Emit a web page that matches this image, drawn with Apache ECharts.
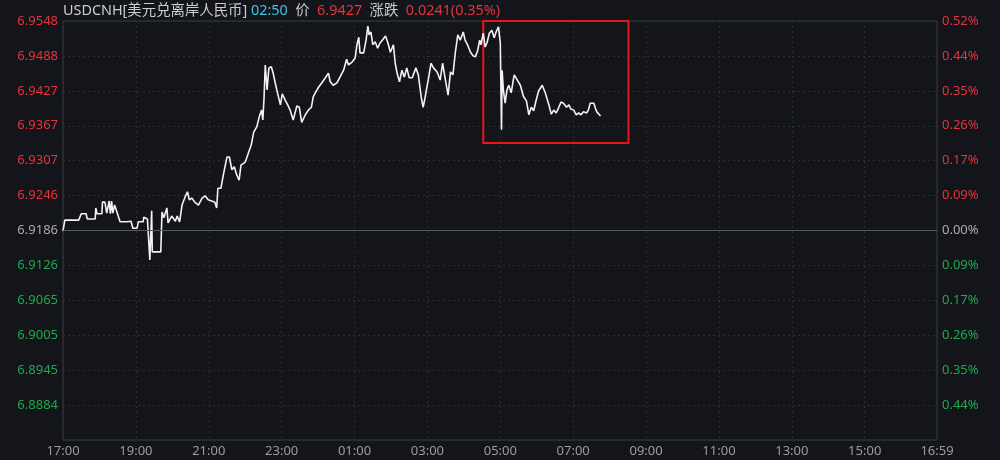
<!DOCTYPE html>
<html><head><meta charset="utf-8">
<script src="https://cdn.jsdelivr.net/npm/echarts@6/dist/echarts.min.js"></script>
<style>html,body{margin:0;padding:0;background:#13151a}#c{width:1000px;height:460px}</style>
</head><body><div id="c"></div>
<script>
// Minutes elapsed since 17:00 (trading day 17:00 -> 16:59 next day)
const minutesFrom1700 = [
  0,3,26,30,38,40,53,54,56,64,
  65,69,72,76,78,80,82,85,88,94,
  105,107,112,115,122,124,132,133,139,142,
  143,145,146,147,161,163,166,171,173,179,
  185,188,192,196,201,205,208,212,217,223,
  229,234,239,245,250,253,255,260,264,270,
  274,278,282,286,290,293,300,304,310,314,
  319,323,327,329,331,333,336,339,343,346,
  349,354,358,361,366,370,374,379,385,389,
  393,399,404,409,412,416,421,426,432,437,
  440,445,451,456,462,467,470,476,481,484,
  487,489,495,499,502,504,507,510,514,518,
  522,526,531,535,539,544,547,550,554,558,
  562,566,570,575,581,585,590,593,596,602,
  606,610,616,621,625,629,634,638,642,646,
  650,654,659,662,666,671,675,679,683,686,
  688,692,695,698,702,706,710,713,717,720,
  722,723,725,728,731,734,738,742,743,748,
  753,758,763,767,771,775,779,783,789,791,
  794,800,804,808,812,816,820,824,829,833,
  836,841,845,849,853,857,862,865,868,871,
  874,877,879,882,885
];
const prices = [
  6.9185,6.9204,6.9204,6.9215,6.9215,6.9206,6.9206,6.9225,6.9215,6.9215,
  6.9235,6.9235,6.9216,6.9237,6.9215,6.9237,6.9216,6.9230,6.9228,6.9201,
  6.9201,6.9202,6.9202,6.9190,6.9190,6.9201,6.9201,6.9209,6.9206,6.9208,
  6.9135,6.9137,6.9220,6.9149,6.9149,6.9218,6.9208,6.9225,6.9199,6.9211,
  6.9202,6.9211,6.9201,6.9230,6.9244,6.9253,6.9239,6.9242,6.9235,6.9230,
  6.9242,6.9246,6.9239,6.9237,6.9235,6.9225,6.9259,6.9259,6.9282,6.9313,
  6.9313,6.9291,6.9296,6.9282,6.9273,6.9299,6.9304,6.9316,6.9334,6.9356,
  6.9365,6.9382,6.9394,6.9377,6.9415,6.9472,6.9429,6.9467,6.9469,6.9458,
  6.9443,6.9420,6.9403,6.9422,6.9411,6.9403,6.9394,6.9377,6.9401,6.9399,
  6.9373,6.9386,6.9394,6.9399,6.9417,6.9425,6.9434,6.9441,6.9450,6.9458,
  6.9443,6.9437,6.9441,6.9451,6.9463,6.9482,6.9472,6.9477,6.9484,6.9507,
  6.9520,6.9493,6.9493,6.9515,6.9539,6.9524,6.9529,6.9507,6.9512,6.9501,
  6.9510,6.9515,6.9522,6.9510,6.9494,6.9507,6.9475,6.9458,6.9443,6.9463,
  6.9451,6.9467,6.9450,6.9450,6.9467,6.9455,6.9415,6.9399,6.9415,6.9450,
  6.9475,6.9467,6.9460,6.9446,6.9475,6.9450,6.9420,6.9460,6.9455,6.9494,
  6.9524,6.9515,6.9529,6.9515,6.9507,6.9494,6.9488,6.9486,6.9498,6.9515,
  6.9507,6.9527,6.9503,6.9510,6.9527,6.9532,6.9519,6.9529,6.9538,6.9510,
  6.9360,6.9463,6.9429,6.9406,6.9429,6.9437,6.9424,6.9450,6.9455,6.9446,
  6.9437,6.9418,6.9410,6.9386,6.9399,6.9393,6.9411,6.9427,6.9437,6.9437,
  6.9424,6.9403,6.9387,6.9394,6.9389,6.9398,6.9408,6.9406,6.9399,6.9403,
  6.9396,6.9394,6.9386,6.9389,6.9386,6.9391,6.9389,6.9394,6.9406,6.9408,
  6.9406,6.9396,6.9391,6.9389,6.9384
];
const xTickLabels = ['17:00','19:00','21:00','23:00','01:00','03:00','05:00','07:00','09:00','11:00','13:00','15:00','16:59'];
// price ticks from bottom (axis min) to top (axis max)
const priceTickLabels = ['','6.8884','6.8945','6.9005','6.9065','6.9126','6.9186','6.9246','6.9307','6.9367','6.9427','6.9488','6.9548'];
const pctTickLabels   = ['','0.44%','0.35%','0.26%','0.17%','0.09%','0.00%','0.09%','0.17%','0.26%','0.35%','0.44%','0.52%'];
const baseIndex = 6;
const basePrice = 6.9186;
const yMin = 6.8824, yMax = 6.9548;
const xMax = 1439;
const headerName = 'USDCNH[美元兑离岸人民币]';
const headerTime = '02:50';
const headerPrice = '6.9427';
const headerChange = '0.0241(0.35%)';
// highlight box: from ~04:32 to ~08:31, from top down to 6.9337
const boxX = [692, 931];
const boxY = [6.9548, 6.9337];

const RED = '#e5333b', GREEN = '#1fa84d', GRAY = '#a9abaf';
const step = (yMax - yMin) / 12;
const idxOf = v => Math.round((parseFloat(v) - yMin) / step);
const colorOf = v => { const i = idxOf(v); return i > baseIndex ? RED : (i < baseIndex ? GREEN : GRAY); };
const FONT = '"Noto Sans","Noto Sans CJK SC",sans-serif';
const HFS = 14.4;

const chart = echarts.init(document.getElementById('c'), null, {renderer: 'canvas'});
chart.setOption({
  backgroundColor: '#13151a',
  animation: false,
  title: {
    left: 63, top: 1, padding: 0,
    text: '{a|' + headerName + '} {b|' + headerTime + '}  {a|价}  {c|' + headerPrice + '}  {a|涨跌}  {c|' + headerChange + '}',
    textStyle: {
      fontFamily: FONT, fontSize: HFS, fontWeight: 'normal',
      rich: {
        a: {color: '#c9ccd2', fontSize: HFS, fontFamily: FONT, lineHeight: 20},
        b: {color: '#3fc6e6', fontSize: HFS, fontFamily: FONT, lineHeight: 20},
        c: {color: RED, fontSize: HFS, fontFamily: FONT, lineHeight: 20}
      }
    }
  },
  grid: {left: 63, right: 63, top: 21, bottom: 20, show: true, borderColor: '#3a3d44', borderWidth: 1, containLabel: false},
  xAxis: {
    type: 'value', min: 0, max: xMax, interval: 120,
    axisLine: {show: false}, axisTick: {show: false},
    axisLabel: {
      color: '#9a9ca1', fontSize: 13, fontFamily: FONT, margin: 5,
      formatter: (v) => { const i = Math.round(v / 120); return v >= xMax ? xTickLabels[xTickLabels.length - 1] : (xTickLabels[i] || ''); }
    },
    splitLine: {show: true, lineStyle: {color: '#2b2e35', type: [2, 3], width: 1}}
  },
  yAxis: [{
    type: 'value', min: yMin, max: yMax, interval: step, position: 'left',
    axisLine: {show: false}, axisTick: {show: false},
    axisLabel: {
      fontSize: 13, fontFamily: FONT, margin: 5,
      color: (v) => colorOf(v),
      formatter: (v) => priceTickLabels[idxOf(v)] || ''
    },
    splitLine: {show: true, lineStyle: {color: '#2b2e35', type: [2, 3], width: 1}}
  }, {
    type: 'value', min: yMin, max: yMax, interval: step, position: 'right',
    axisLine: {show: false}, axisTick: {show: false},
    axisLabel: {
      fontSize: 13, fontFamily: FONT, margin: 5,
      color: (v) => colorOf(v),
      formatter: (v) => pctTickLabels[idxOf(v)] || ''
    },
    splitLine: {show: false}
  }],
  series: [{
    type: 'line', yAxisIndex: 0, showSymbol: false, symbol: 'none',
    data: minutesFrom1700.map((m, i) => [m, prices[i]]),
    lineStyle: {color: '#f2f2f2', width: 1.6},
    markLine: {
      silent: true, symbol: 'none', label: {show: false}, precision: 4,
      lineStyle: {color: '#54575d', type: 'solid', width: 1},
      data: [{yAxis: basePrice}]
    },
    markArea: {
      silent: true, precision: 4,
      itemStyle: {color: 'rgba(0,0,0,0)', borderColor: '#e8161c', borderWidth: 2},
      data: [[{xAxis: boxX[0], yAxis: boxY[0]}, {xAxis: boxX[1], yAxis: boxY[1]}]]
    }
  }]
});
</script></body></html>
